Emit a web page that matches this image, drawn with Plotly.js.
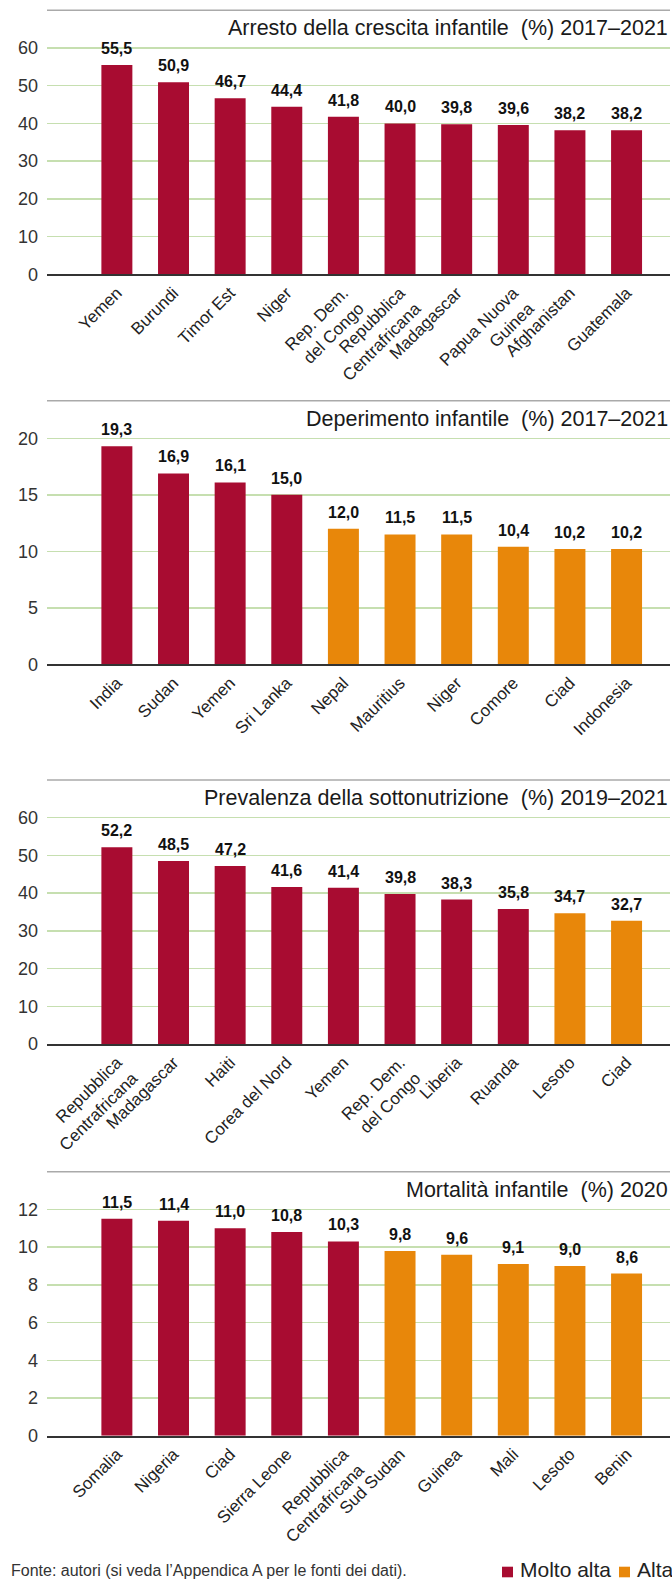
<!DOCTYPE html>
<html>
<head>
<meta charset="utf-8">
<script src="https://cdn.plot.ly/plotly-3.0.1.min.js"></script>
<style>html,body{margin:0;padding:0;background:#fff;}</style>
</head>
<body>
<div id="chart" style="width:672px;height:1580px;"></div>
<script>
// ---- Data ----
const titles = [
  "Arresto della crescita infantile \u00a0(%) 2017\u20132021",
  "Deperimento infantile \u00a0(%) 2017\u20132021",
  "Prevalenza della sottonutrizione \u00a0(%) 2019\u20132021",
  "Mortalit\u00e0 infantile \u00a0(%) 2020"
];

const cats1 = ["Yemen", "Burundi", "Timor Est", "Niger", "Rep. Dem.<br>del Congo", "Repubblica<br>Centrafricana", "Madagascar", "Papua Nuova<br>Guinea", "Afghanistan", "Guatemala"];
const vals1 = [55.5, 50.9, 46.7, 44.4, 41.8, 40.0, 39.8, 39.6, 38.2, 38.2];
const level1 = ["M","M","M","M","M","M","M","M","M","M"];

const cats2 = ["India", "Sudan", "Yemen", "Sri Lanka", "Nepal", "Mauritius", "Niger", "Comore", "Ciad", "Indonesia"];
const vals2 = [19.3, 16.9, 16.1, 15.0, 12.0, 11.5, 11.5, 10.4, 10.2, 10.2];
const level2 = ["M","M","M","M","A","A","A","A","A","A"];

const cats3 = ["Repubblica<br>Centrafricana", "Madagascar", "Haiti", "Corea del Nord", "Yemen", "Rep. Dem.<br>del Congo", "Liberia", "Ruanda", "Lesoto", "Ciad"];
const vals3 = [52.2, 48.5, 47.2, 41.6, 41.4, 39.8, 38.3, 35.8, 34.7, 32.7];
const level3 = ["M","M","M","M","M","M","M","M","A","A"];

const cats4 = ["Somalia", "Nigeria", "Ciad", "Sierra Leone", "Repubblica<br>Centrafricana", "Sud Sudan", "Guinea", "Mali", "Lesoto", "Benin"];
const vals4 = [11.5, 11.4, 11.0, 10.8, 10.3, 9.8, 9.6, 9.1, 9.0, 8.6];
const level4 = ["M","M","M","M","M","A","A","A","A","A"];

const yTicks1 = [0, 10, 20, 30, 40, 50, 60];
const yTicks2 = [0, 5, 10, 15, 20];
const yTicks3 = [0, 10, 20, 30, 40, 50, 60];
const yTicks4 = [0, 2, 4, 6, 8, 10, 12];

const legendLabels = ["Molto alta", "Alta"];
const footerText = "Fonte: autori (si veda l\u2019Appendica A per le fonti dei dati).";

// ---- Styles / layout ----
const COLORS = {M: "#a80c31", A: "#e8870a"};
const W = 672, H = 1580, ML = 47, MR = 2;
const PW = W - ML - MR;
const pxX = p => (p - ML) / PW;
const pxY = p => 1 - p / H;
const panelTopPx = [10.3, 400.7, 780, 1171.7];
const panelBotPx = [274.3, 664.3, 1044, 1435.7];
const FONT = "Liberation Sans, Arial, sans-serif";

const panels = [
  {cats: cats1, vals: vals1, lev: level1, ticks: yTicks1},
  {cats: cats2, vals: vals2, lev: level2, ticks: yTicks2},
  {cats: cats3, vals: vals3, lev: level3, ticks: yTicks3},
  {cats: cats4, vals: vals4, lev: level4, ticks: yTicks4}
];

const data = [];
const layout = {
  width: W, height: H,
  margin: {l: ML, r: MR, t: 0, b: 0, pad: 0},
  paper_bgcolor: "#fff", plot_bgcolor: "#fff",
  showlegend: false,
  bargap: 0.453,
  font: {family: FONT, color: "#222"},
  annotations: [], shapes: []
};

panels.forEach((p, i) => {
  const n = i + 1;
  const xa = n === 1 ? "x" : "x" + n;
  const ya = n === 1 ? "y" : "y" + n;
  data.push({
    type: "bar",
    x: p.cats, y: p.vals,
    xaxis: xa, yaxis: ya,
    marker: {color: p.lev.map(l => COLORS[l]), line: {width: 0}},
    hoverinfo: "skip"
  });
  layout["xaxis" + (n === 1 ? "" : n)] = {
    domain: [0, 1], anchor: ya, type: "category",
    range: [-1.234, 9.767],
    showline: true, linecolor: "#333", linewidth: 2,
    showgrid: false, zeroline: false, ticks: "",
    tickangle: -45,
    tickfont: {family: FONT, size: 17, color: "#222"},
    fixedrange: true
  };
  const topTick = p.ticks[p.ticks.length - 1];
  layout["yaxis" + (n === 1 ? "" : n)] = {
    domain: [pxY(panelBotPx[i]), pxY(panelTopPx[i])],
    anchor: xa,
    range: [0, topTick * 7 / 6],
    tickmode: "array", tickvals: p.ticks, ticktext: p.ticks.map(String),
    showgrid: true, gridcolor: "#c6dfb0", gridwidth: 1.5,
    zeroline: false, showline: false, ticks: "",
    ticklabelstandoff: 8,
    tickfont: {family: FONT, size: 18, color: "#333"},
    fixedrange: true
  };
  // top grey rule
  layout.shapes.push({
    type: "line", xref: xa + " domain", yref: ya + " domain",
    x0: 0, x1: 1, y0: 1, y1: 1,
    line: {color: "#aaaaaa", width: 1.5}, layer: "below"
  });
  // panel title
  layout.annotations.push({
    text: titles[i], xref: "paper", yref: ya + " domain",
    x: 1, y: 1, xanchor: "right", yanchor: "top", yshift: -4, xshift: 0,
    showarrow: false, font: {family: FONT, size: 21.5, color: "#1a1a1a"}
  });
  // value labels
  p.cats.forEach((c, k) => {
    layout.annotations.push({
      text: p.vals[k].toFixed(1).replace(".", ","),
      xref: xa, yref: ya, x: c, y: p.vals[k],
      xanchor: "center", yanchor: "bottom", yshift: 6,
      showarrow: false,
      font: {family: FONT, size: 16, color: "#111", weight: "bold"}
    });
  });
});

// footer
layout.annotations.push({
  text: footerText, xref: "paper", yref: "paper",
  x: pxX(9), y: pxY(1570), xanchor: "left", yanchor: "middle",
  showarrow: false, font: {family: FONT, size: 16, color: "#333"}
});
// legend
const legX = [502, 619];
const legTextX = [518, 635];
["M", "A"].forEach((k, j) => {
  layout.shapes.push({
    type: "rect", xref: "paper", yref: "paper",
    x0: pxX(legX[j]), x1: pxX(legX[j] + 11),
    y0: pxY(1577.3), y1: pxY(1566.7),
    fillcolor: COLORS[k], line: {width: 0}
  });
  layout.annotations.push({
    text: legendLabels[j], xref: "paper", yref: "paper",
    x: pxX(legTextX[j]), y: pxY(1569), xanchor: "left", yanchor: "middle",
    showarrow: false, font: {family: FONT, size: 21, color: "#222"}
  });
});

Plotly.newPlot("chart", data, layout, {staticPlot: true, displayModeBar: false});
</script>
</body>
</html>
